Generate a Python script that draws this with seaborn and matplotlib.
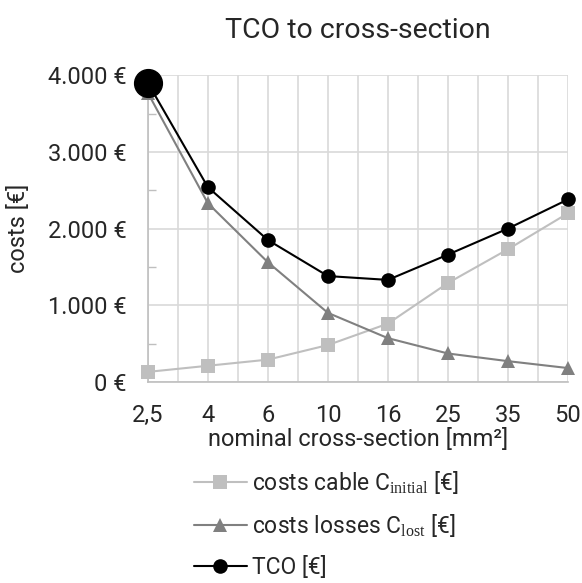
import matplotlib
matplotlib.use("Agg")
import matplotlib.pyplot as plt
import seaborn as sns
import pandas as pd
import numpy as np

# Cross-section categories and cost series
sections = ["2,5", "4", "6", "10", "16", "25", "35", "50"]
cable_costs = [130, 210, 290, 480, 760, 1290, 1730, 2200]
loss_costs = [3770, 2330, 1560, 900, 570, 370, 270, 180]
tco_costs = [c + l for c, l in zip(cable_costs, loss_costs)]
y_ticks = [0, 1000, 2000, 3000, 4000]
y_tick_labels = ["0 €", "1.000 €", "2.000 €", "3.000 €", "4.000 €"]

sns.set_theme(style="white")
plt.rcParams["font.family"] = ["Roboto", "DejaVu Sans"]
plt.rcParams["mathtext.fontset"] = "custom"
plt.rcParams["mathtext.rm"] = "Liberation Serif"

pos = np.arange(len(sections))
df = pd.DataFrame({
    "pos": np.tile(pos, 3),
    "cost": cable_costs + loss_costs + tco_costs,
    "series": (["cable"] * len(pos)) + (["loss"] * len(pos)) + (["tco"] * len(pos)),
})

fig = plt.figure(figsize=(5.82, 5.83), dpi=100)
ax = fig.add_axes([0.254, 0.345, 0.722, 0.526])

styles = {
    "cable": dict(color="#BFBFBF", marker="s", ms=9.5, label=r"costs cable C$_{\mathrm{initial}}$ [€]"),
    "loss": dict(color="#808080", marker="^", ms=10.5, label=r"costs losses C$_{\mathrm{lost}}$ [€]"),
    "tco": dict(color="#000000", marker="o", ms=10.5, label="TCO [€]"),
}
for key in ["cable", "loss", "tco"]:
    sub = df[df["series"] == key]
    st = styles[key]
    sns.lineplot(data=sub, x="pos", y="cost", ax=ax, color=st["color"],
                 marker=st["marker"], markersize=st["ms"], markeredgewidth=0,
                 linewidth=1.5, label=st["label"], clip_on=False, zorder=3)

# emphasised starting point of the TCO curve
ax.plot(pos[0], tco_costs[0], marker="o", markersize=20, color="black",
        clip_on=False, zorder=5, linestyle="none")

ax.set_xlim(0, len(sections) - 1)
ax.set_ylim(0, 4000)
ax.set_xticks(pos)
ax.set_xticklabels(sections)
ax.set_xticks(np.arange(0.5, len(sections) - 1, 1.0), minor=True)
ax.set_yticks(y_ticks)
ax.set_yticklabels(y_tick_labels)
ax.set_yticks(np.arange(500, 4000, 1000), minor=True)

ax.grid(True, which="major", color="#D9D9D9", linewidth=1.2)
ax.grid(True, which="minor", axis="x", color="#D9D9D9", linewidth=1.2)
for side in ["top", "right"]:
    ax.spines[side].set_visible(False)
for side in ["left", "bottom"]:
    ax.spines[side].set_color("#BFBFBF")
    ax.spines[side].set_linewidth(1.2)
ax.tick_params(axis="both", which="major", length=0, labelsize=17)
ax.tick_params(axis="y", which="major", pad=15)
ax.tick_params(axis="x", which="major", pad=16)
ax.tick_params(axis="y", which="minor", direction="in", length=6, color="#BFBFBF", left=True)
ax.tick_params(axis="x", which="minor", length=0)

ax.set_xlabel("nominal cross-section [mm²]", fontsize=17, labelpad=0.5)
ax.set_ylabel("costs [€]", fontsize=17, labelpad=13)
ax.set_title("TCO to cross-section", fontsize=20.5, pad=27)

h, l = ax.get_legend_handles_labels()
ax.legend_.remove()
fig.legend(h, l, loc="upper left", bbox_to_anchor=(0.333, 0.196), frameon=False,
           fontsize=16.5, handlelength=2.3, labelspacing=0.72, handletextpad=0.25,
           borderpad=0, borderaxespad=0)

fig.savefig("out.png", dpi=100)
